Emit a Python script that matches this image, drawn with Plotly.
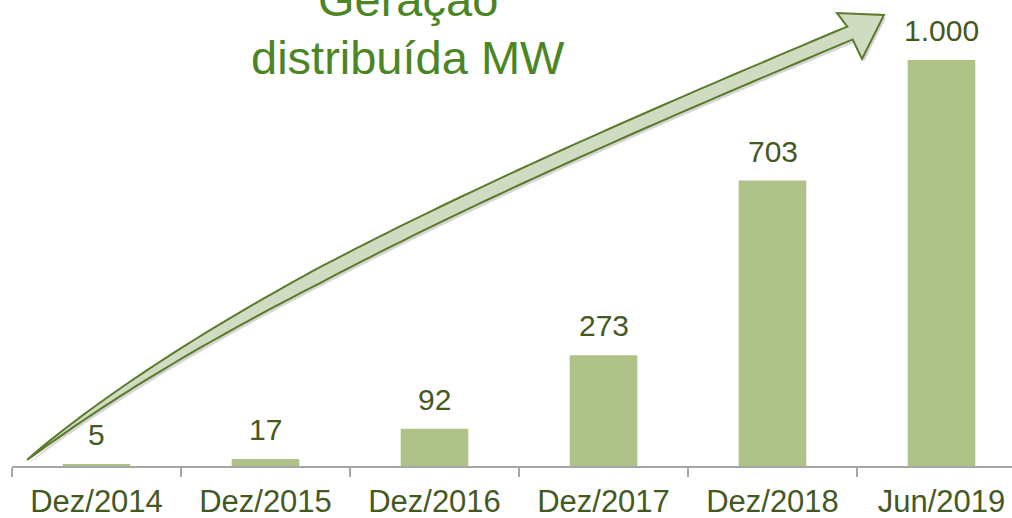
import plotly.graph_objects as go

categories = ["Dez/2014", "Dez/2015", "Dez/2016", "Dez/2017", "Dez/2018", "Jun/2019"]
values = [5, 17, 92, 273, 703, 1000]
title_lines = ["Geração", "distribuída MW"]

W, H = 1012, 518
ML, MR, MT, MB = 12, 0, 0, 52
PW, PH = W - ML - MR, H - MT - MB
CAT_PX = 169.0
YMAX = PH / 0.406

def px(x, y):
    return ((x - ML) / PW, (H - MB - y) / PH)

# ---- decorative curved arrow (pixel geometry -> paper coords) ----
P0, P1, P2, P3 = (27, 460), (227, 300), (550, 159), (850, 33)

def bez(t):
    a = (1 - t) ** 3; b = 3 * (1 - t) ** 2 * t; c = 3 * (1 - t) * t ** 2; d = t ** 3
    return (a * P0[0] + b * P1[0] + c * P2[0] + d * P3[0],
            a * P0[1] + b * P1[1] + c * P2[1] + d * P3[1])

def dbez(t):
    x = 3 * (1 - t) ** 2 * (P1[0] - P0[0]) + 6 * (1 - t) * t * (P2[0] - P1[0]) + 3 * t ** 2 * (P3[0] - P2[0])
    y = 3 * (1 - t) ** 2 * (P1[1] - P0[1]) + 6 * (1 - t) * t * (P2[1] - P1[1]) + 3 * t ** 2 * (P3[1] - P2[1])
    n = (x * x + y * y) ** 0.5
    return x / n, y / n

def halfw(t):
    full = 7.0
    if t < 0.4:
        return full * (t / 0.4) ** 0.75
    return full

N = 80
upper, lower = [], []
for i in range(N + 1):
    t = i / N
    cx, cy = bez(t)
    dx, dy = dbez(t)
    nx, ny = -dy, dx
    hw = halfw(t)
    upper.append((cx - nx * hw, cy - ny * hw))
    lower.append((cx + nx * hw, cy + ny * hw))

head = [(837, 13), (884, 15), (862, 59)]
poly = upper + [head[0], head[1], head[2]] + lower[::-1]

def path_of(points, ox=0, oy=0):
    segs = []
    for i, (x, y) in enumerate(points):
        u, v = px(x + ox, y + oy)
        segs.append(("M" if i == 0 else "L") + f"{u:.5f},{v:.5f}")
    return " ".join(segs) + " Z"

fig = go.Figure()
fig.add_trace(go.Bar(
    x=categories, y=values, width=0.40,
    marker=dict(color="#afc287", line=dict(width=0)),
    hoverinfo="skip",
))

label_font = dict(family="Arial, Liberation Sans, sans-serif", size=30, color="#44591f")
for c, v in zip(categories, values):
    fig.add_annotation(x=c, y=v, xref="x", yref="y", text=f"{v:,}".replace(",", "."),
                       showarrow=False, yanchor="bottom", yshift=11, font=label_font)

# shadow + arrow
fig.add_shape(type="path", xref="paper", yref="paper", path=path_of(poly, 2, 3),
              fillcolor="rgba(0,0,0,0.16)", line=dict(width=0), layer="above")
fig.add_shape(type="path", xref="paper", yref="paper", path=path_of(poly),
              fillcolor="#d0dcc2", line=dict(color="#5b7a2b", width=2), layer="above")

title_font = dict(family="Arial, Liberation Sans, sans-serif", size=47, color="#4c8523")
for txt, ypx in zip(title_lines, [-1, 57]):
    u, v = px(408, ypx)
    fig.add_annotation(x=u, y=v, xref="paper", yref="paper", text=txt, showarrow=False,
                       xanchor="center", yanchor="middle", font=title_font)

fig.update_layout(
    width=W, height=H,
    margin=dict(l=ML, r=MR, t=MT, b=MB, pad=0),
    plot_bgcolor="white", paper_bgcolor="white",
    showlegend=False,
    bargap=0.6,
    xaxis=dict(
        type="category", range=[-0.5, -0.5 + PW / CAT_PX],
        showline=True, linecolor="#a6a6a6", linewidth=2,
        ticks="outside", tickson="boundaries", ticklen=9, tickwidth=2, tickcolor="#a6a6a6",
        tickfont=dict(family="Arial, Liberation Sans, sans-serif", size=31, color="#44591f"),
        ticklabelstandoff=7,
        showgrid=False, zeroline=False, fixedrange=True,
    ),
    yaxis=dict(range=[0, YMAX], visible=False, showgrid=False, zeroline=False, fixedrange=True),
)

fig.write_html("out.html", config={"displayModeBar": False},
               post_script="document.body.style.margin='0';document.body.style.overflow='hidden';")
